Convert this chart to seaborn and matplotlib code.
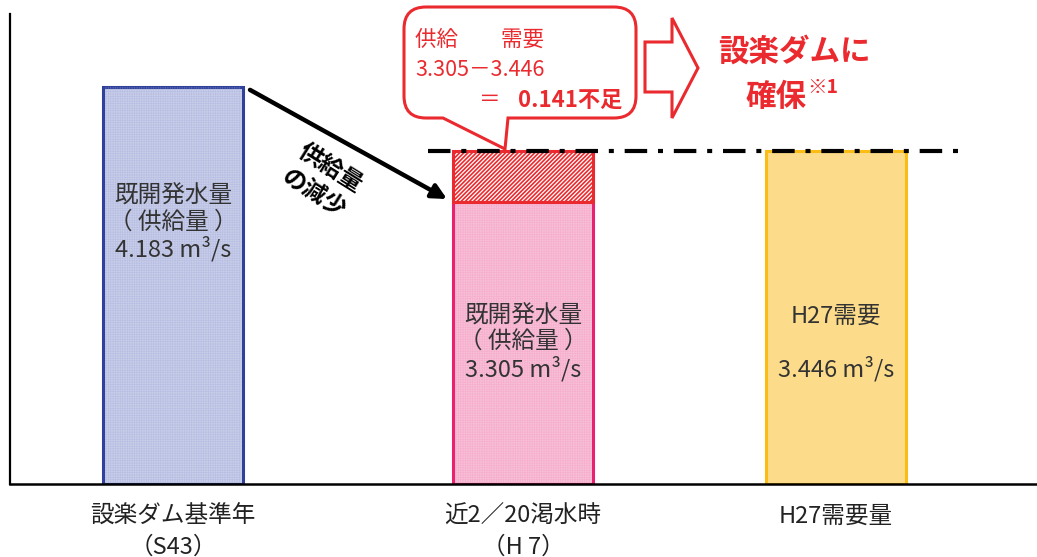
import numpy as np
import pandas as pd
import seaborn as sns
import matplotlib
matplotlib.use("Agg")
import matplotlib.pyplot as plt
from matplotlib.path import Path
from matplotlib.patches import PathPatch, Polygon

# ---------------- data ----------------
categories = ["設楽ダム基準年\n（S43）", "近2／20渇水時\n（H 7）", "H27需要量"]
bar_heights = [4.11, 2.92, 3.447]          # schematic bar heights as drawn
labelled_values = [4.183, 3.305, 3.446]   # m3/s values written in the bars
supply_2 = 3.305
demand = 3.446
shortage = 0.141
bar_texts = ["既開発水量\n（ 供給量 ）\n4.183 m³/s",
             "既開発水量\n（ 供給量 ）\n3.305 m³/s",
             "H27需要\n\n3.446 m³/s"]
fill_colors = ["#c9cee9", "#f8c0d8", "#fcdc8a"]
texture_colors = ["#9aa4d6", "#f090b8", None]
edge_colors = ["#2f419b", "#e8226e", "#fbbc16"]
RED = "#ea2a2e"

# ---------------- style ----------------
sns.set_theme(style="white")
plt.rcParams['font.family'] = ['Noto Sans CJK JP', 'DejaVu Sans']

W, H = 1037, 557
fig = plt.figure(figsize=(W / 100, H / 100), dpi=100)
ax = fig.add_axes([10 / W, 73 / H, 1027 / W, 470 / H])

x_pos = [1.73, 5.23, 8.36]
bar_w = 1.40
df = pd.DataFrame({"x": x_pos, "h": bar_heights, "cat": categories})
sns.barplot(data=df, x="x", y="h", hue="cat", palette=fill_colors,
            saturation=1, native_scale=True,
            width=bar_w / (x_pos[2] - x_pos[1]),
            legend=False, ax=ax, zorder=2)
bars = list(ax.patches)
for p, ec in zip(bars, edge_colors):
    p.set_edgecolor(ec)
    p.set_linewidth(2.2)

# fine grid texture on the first two bars
for i, tc in enumerate(texture_colors):
    if tc is None:
        continue
    tb = ax.bar([x_pos[i]], [bar_heights[i]], width=bar_w - 0.04, fill=False,
                edgecolor=tc, hatch="+++++++", linewidth=0, alpha=0.35,
                zorder=2.5)
    for p in tb:
        if hasattr(p, "set_hatch_linewidth"):
            p.set_hatch_linewidth(0.5)

# shortage part (hatched) on the middle bar
sb = ax.bar([x_pos[1]], [bar_heights[2] - bar_heights[1]], bottom=[bar_heights[1]],
            width=bar_w, facecolor="white", edgecolor=RED, hatch="////////",
            linewidth=2.2, zorder=3)
for p in sb:
    if hasattr(p, "set_hatch_linewidth"):
        p.set_hatch_linewidth(1.2)

# demand level dash-dot line
ax.hlines(bar_heights[2], 4.28, 9.62, colors="black", linewidth=3.0,
          linestyles=[(0, (5.4, 2.6, 1.2, 2.6))], zorder=5)

ax.set_xlim(0.10, 10.37)
ax.set_ylim(0, 470 / 96.6)
ax.set_xticks(x_pos)
ax.set_xticklabels(categories, fontsize=17, color="#222222", linespacing=1.45)
ax.tick_params(axis="x", length=0, pad=15)
ax.set_yticks([])
ax.set_xlabel("")
ax.set_ylabel("")
for s in ["top", "right"]:
    ax.spines[s].set_visible(False)
ax.spines["left"].set_color("black")
ax.spines["left"].set_linewidth(1.6)
ax.spines["bottom"].set_color("black")
ax.spines["bottom"].set_linewidth(1.8)

# texts inside bars
text_y = [2.70, 1.46, 1.46]
for i, t in enumerate(bar_texts):
    ax.text(x_pos[i], text_y[i], t, ha="center", va="center", fontsize=17,
            color="#333333", linespacing=1.15, zorder=6)

# black arrow: supply decrease
ax.annotate("", xy=(x_pos[1] - bar_w / 2 - 0.06, bar_heights[1] + 0.03),
            xytext=(x_pos[0] + bar_w / 2 + 0.07, bar_heights[0] - 0.03),
            arrowprops=dict(arrowstyle="-|>", color="black", lw=3.2,
                            mutation_scale=22, shrinkA=0, shrinkB=0), zorder=6)


def fp(px, py):
    return px / W, 1 - py / H


fig.text(*fp(322, 181), "供給量\nの減少", rotation=-32, ha="center", va="center",
         fontsize=17, fontweight="bold", color="black", linespacing=1.35,
         rotation_mode="anchor")

# callout box with tail
x0, x1, y0, y1, r = 404, 636, 7, 118, 22
pts = [(x0 + r, y0), (x1 - r, y0), (x1, y0), (x1, y0 + r), (x1, y1 - r),
       (x1, y1), (x1 - r, y1), (508, y1), (505, 149), (443, y1),
       (x0 + r, y1), (x0, y1), (x0, y1 - r), (x0, y0 + r), (x0, y0),
       (x0 + r, y0), (x0 + r, y0)]
codes = [Path.MOVETO, Path.LINETO, Path.CURVE3, Path.CURVE3, Path.LINETO,
         Path.CURVE3, Path.CURVE3, Path.LINETO, Path.LINETO, Path.LINETO,
         Path.LINETO, Path.CURVE3, Path.CURVE3, Path.LINETO, Path.CURVE3,
         Path.CURVE3, Path.CLOSEPOLY]
path = Path([fp(*p) for p in pts], codes)
fig.patches.append(PathPatch(path, facecolor="white", edgecolor=RED, lw=2.2,
                             transform=fig.transFigure, zorder=10))
fig.text(*fp(415, 40), "供給　　需要", ha="left", va="center", fontsize=15.5,
         color=RED, zorder=11)
fig.text(*fp(415, 70), f"{supply_2:.3f}－{demand:.3f}", ha="left", va="center",
         fontsize=15.5, color=RED, zorder=11)
fig.text(*fp(501, 100), "＝", ha="right", va="center", fontsize=15.5,
         color=RED, zorder=11)
fig.text(*fp(622, 100), f"{shortage:.3f}不足", ha="right", va="center",
         fontsize=16, fontweight="bold", color=RED, zorder=11)

# big outlined arrow
arr = [(645, 42), (672, 42), (672, 18), (698, 68), (672, 118), (672, 92), (645, 92)]
fig.patches.append(Polygon([fp(*p) for p in arr], closed=True, facecolor="white",
                           edgecolor=RED, lw=2.2, transform=fig.transFigure,
                           zorder=10))

fig.text(*fp(794, 52), "設楽ダムに", ha="center", va="center", fontsize=22,
         fontweight="bold", color=RED)
fig.text(*fp(807, 97), "確保", ha="right", va="center", fontsize=22,
         fontweight="bold", color=RED)
fig.text(*fp(807, 87), "※1", ha="left", va="center", fontsize=14,
         fontweight="bold", color=RED)

fig.savefig("out.png", dpi=100, facecolor="white")
